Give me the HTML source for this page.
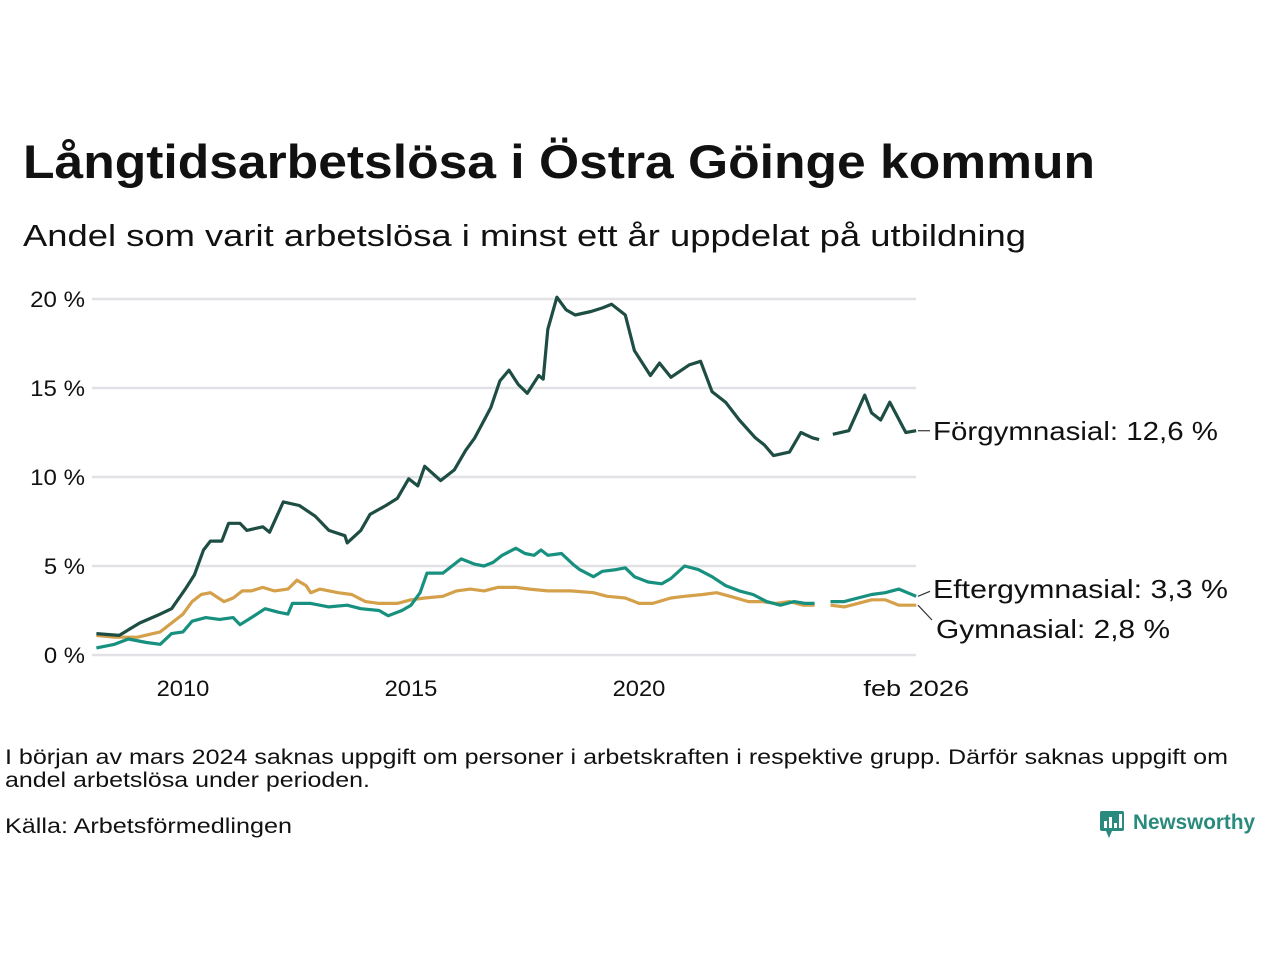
<!DOCTYPE html>
<html><head><meta charset="utf-8">
<style>
body{margin:0;background:#fff;width:1280px;height:960px;overflow:hidden;font-family:"Liberation Sans",sans-serif;}
</style></head>
<body>
<svg id="chart" width="1280" height="960" xmlns="http://www.w3.org/2000/svg" font-family="Liberation Sans, sans-serif">
<text x="23" y="178" font-size="47" font-weight="bold" fill="#111" textLength="1072" lengthAdjust="spacingAndGlyphs">Långtidsarbetslösa i Östra Göinge kommun</text>
<text x="23" y="246" font-size="31" fill="#111" textLength="1003" lengthAdjust="spacingAndGlyphs">Andel som varit arbetslösa i minst ett år uppdelat på utbildning</text>
<g id="grid"></g>
<g id="yticks"></g>
<g id="xticks"></g>
<g id="lines"></g>
<g id="labels"></g>
<text x="5" y="764" font-size="21" fill="#111" textLength="1223" lengthAdjust="spacingAndGlyphs">I början av mars 2024 saknas uppgift om personer i arbetskraften i respektive grupp. Därför saknas uppgift om</text>
<text x="5" y="787" font-size="21" fill="#111" textLength="365" lengthAdjust="spacingAndGlyphs">andel arbetslösa under perioden.</text>
<text x="5" y="833" font-size="21" fill="#111" textLength="287" lengthAdjust="spacingAndGlyphs">Källa: Arbetsförmedlingen</text>
<g>
<rect x="1100" y="811" width="24" height="20" rx="2" fill="#2a8a7e"/>
<polygon points="1106,831 1112,831 1109,838" fill="#2a8a7e"/>
<rect x="1104" y="821" width="3" height="7" fill="#fff"/><rect x="1109" y="817" width="3" height="11" fill="#fff"/><rect x="1114" y="823" width="3" height="5" fill="#fff"/><rect x="1119" y="814" width="3" height="14" fill="#fff"/>
<text x="1133" y="829" font-size="21" font-weight="bold" fill="#2a8a7e" textLength="122" lengthAdjust="spacingAndGlyphs">Newsworthy</text>
</g>
</svg>
<script>
const yTicks=[0,5,10,15,20];
const yTickLabels=["0 %","5 %","10 %","15 %","20 %"];
const xTicks=[2010,2015,2020,2026.08];
const xTickLabels=["2010","2015","2020","feb 2026"];
const seriesNames=["Förgymnasial","Eftergymnasial","Gymnasial"];
const forDates=[2008.1,2008.6,2009.05,2009.5,2009.75,2010.05,2010.25,2010.45,2010.6,2010.85,2011.0,2011.25,2011.4,2011.75,2011.9,2012.2,2012.55,2012.9,2013.2,2013.55,2013.6,2013.9,2014.1,2014.45,2014.7,2014.95,2015.15,2015.3,2015.65,2015.95,2016.2,2016.4,2016.75,2016.95,2017.15,2017.35,2017.55,2017.8,2017.9,2018.0,2018.2,2018.4,2018.6,2018.95,2019.2,2019.4,2019.7,2019.9,2020.25,2020.45,2020.7,2021.1,2021.35,2021.6,2021.9,2022.2,2022.55,2022.75,2022.95,2023.3,2023.55,2023.8,2023.95,2024.05,2024.25,2024.6,2024.95,2025.1,2025.3,2025.5,2025.85,2026.08];
const forValues=[1.2,1.1,1.8,2.3,2.6,3.7,4.5,5.9,6.4,6.4,7.4,7.4,7.0,7.2,6.9,8.6,8.4,7.8,7.0,6.7,6.3,7.0,7.9,8.4,8.8,9.9,9.5,10.6,9.8,10.4,11.5,12.2,13.9,15.4,16.0,15.2,14.7,15.7,15.5,18.3,20.1,19.4,19.1,19.3,19.5,19.7,19.1,17.1,15.7,16.4,15.6,16.3,16.5,14.8,14.2,13.2,12.2,11.8,11.2,11.4,12.5,12.2,12.1,null,12.4,12.6,14.6,13.6,13.2,14.2,12.5,12.6];
const eftDates=[2008.1,2008.5,2008.8,2009.2,2009.5,2009.75,2010.0,2010.2,2010.5,2010.8,2011.1,2011.25,2011.5,2011.8,2012.1,2012.3,2012.4,2012.8,2013.2,2013.6,2013.9,2014.3,2014.5,2014.8,2015.0,2015.2,2015.35,2015.7,2015.9,2016.1,2016.4,2016.6,2016.8,2017.0,2017.3,2017.5,2017.7,2017.85,2018.0,2018.3,2018.55,2018.7,2019.0,2019.2,2019.5,2019.7,2019.9,2020.2,2020.5,2020.7,2021.0,2021.3,2021.6,2021.9,2022.2,2022.5,2022.8,2023.1,2023.4,2023.65,2023.85,2024.0,2024.2,2024.5,2024.8,2025.1,2025.4,2025.7,2026.08];
const eftValues=[0.4,0.6,0.9,0.7,0.6,1.2,1.3,1.9,2.1,2.0,2.1,1.7,2.1,2.6,2.4,2.3,2.9,2.9,2.7,2.8,2.6,2.5,2.2,2.5,2.8,3.5,4.6,4.6,5.0,5.4,5.1,5.0,5.2,5.6,6.0,5.7,5.6,5.9,5.6,5.7,5.1,4.8,4.4,4.7,4.8,4.9,4.4,4.1,4.0,4.3,5.0,4.8,4.4,3.9,3.6,3.4,3.0,2.8,3.0,2.9,2.9,null,3.0,3.0,3.2,3.4,3.5,3.7,3.3];
const gymDates=[2008.1,2008.5,2009.0,2009.5,2009.75,2010.0,2010.2,2010.4,2010.6,2010.9,2011.1,2011.3,2011.5,2011.75,2012.0,2012.3,2012.5,2012.7,2012.8,2013.0,2013.4,2013.7,2014.0,2014.3,2014.7,2015.0,2015.3,2015.7,2016.0,2016.3,2016.6,2016.9,2017.3,2017.6,2018.0,2018.5,2019.0,2019.3,2019.7,2020.0,2020.3,2020.7,2021.0,2021.4,2021.7,2022.0,2022.4,2022.7,2023.0,2023.3,2023.6,2023.85,2024.0,2024.2,2024.5,2024.8,2025.1,2025.4,2025.7,2026.08];
const gymValues=[1.1,1.0,1.0,1.3,1.8,2.3,3.0,3.4,3.5,3.0,3.2,3.6,3.6,3.8,3.6,3.7,4.2,3.9,3.5,3.7,3.5,3.4,3.0,2.9,2.9,3.1,3.2,3.3,3.6,3.7,3.6,3.8,3.8,3.7,3.6,3.6,3.5,3.3,3.2,2.9,2.9,3.2,3.3,3.4,3.5,3.3,3.0,3.0,2.9,3.0,2.8,2.8,null,2.8,2.7,2.9,3.1,3.1,2.8,2.8];

const NS="http://www.w3.org/2000/svg";
const X=d=>183+(d-2010)*45.6;
const Y=v=>655-v*17.8;
function mk(tag,attrs,parent,text){const e=document.createElementNS(NS,tag);for(const k in attrs)e.setAttribute(k,attrs[k]);if(text!==undefined)e.textContent=text;parent.appendChild(e);return e;}
const grid=document.getElementById('grid'),yt=document.getElementById('yticks'),xt=document.getElementById('xticks'),lines=document.getElementById('lines'),labels=document.getElementById('labels');
yTicks.forEach((t,i)=>{
  const l=mk('line',{x1:92,x2:916,y1:Y(t),y2:Y(t),stroke:'#e2e2e6','stroke-width':2.5},grid);
  
  
  const lab=yTickLabels[i];
  const tx=mk('text',{x:85,y:Y(t)+8,'font-size':22,'text-anchor':'end',fill:'#111',textLength:lab.length*13.7,lengthAdjust:'spacingAndGlyphs'},yt,lab);
  
  
});
xTicks.forEach((t,i)=>{
  const lab=xTickLabels[i];
  const tx=mk('text',{x:X(t),y:696,'font-size':22,'text-anchor':'middle',fill:'#111',textLength:lab.length*13.2,lengthAdjust:'spacingAndGlyphs'},xt,lab);
  
  
});
function path(dates,vals){let d='',pen=false;dates.forEach((t,i)=>{const v=vals[i];if(v===null||v===undefined){pen=false;return;}d+=(pen?'L':'M')+X(t).toFixed(1)+','+Y(v).toFixed(1);pen=true;});return d;}
const specs=[[gymDates,gymValues,'#d4a04a','line-gymnasial'],[eftDates,eftValues,'#17907f','line-eftergymnasial'],[forDates,forValues,'#1e4d44','line-forgymnasial']];
specs.forEach(s=>{
  const p=mk('path',{d:path(s[0],s[1]),fill:'none',stroke:s[2],'stroke-width':3.2,'stroke-linejoin':'round'},lines);
  
  
});
const lastF=forValues[forValues.length-1],lastE=eftValues[eftValues.length-1],lastG=gymValues[gymValues.length-1];
const fmt=v=>v.toFixed(1).replace('.',',');
mk('line',{x1:918,y1:Y(lastF),x2:930,y2:Y(lastF),stroke:'#333','stroke-width':1.2},labels);
mk('line',{x1:918,y1:Y(lastE),x2:930,y2:Y(lastE)-5,stroke:'#333','stroke-width':1.2},labels);
mk('line',{x1:918,y1:Y(lastG),x2:932,y2:620,stroke:'#333','stroke-width':1.2},labels);
const l1=mk('text',{x:933,y:440,'font-size':26,fill:'#111',textLength:285,lengthAdjust:'spacingAndGlyphs'},labels,seriesNames[0]+': '+fmt(lastF)+' %');


const l2=mk('text',{x:933,y:598,'font-size':26,fill:'#111','xml:space':'preserve',textLength:295,lengthAdjust:'spacingAndGlyphs'},labels,seriesNames[1]+':  '+fmt(lastE)+' %');


const l3=mk('text',{x:936,y:638,'font-size':26,fill:'#111','xml:space':'preserve',textLength:234,lengthAdjust:'spacingAndGlyphs'},labels,seriesNames[2]+':  '+fmt(lastG)+' %');


</script>
</body></html>
